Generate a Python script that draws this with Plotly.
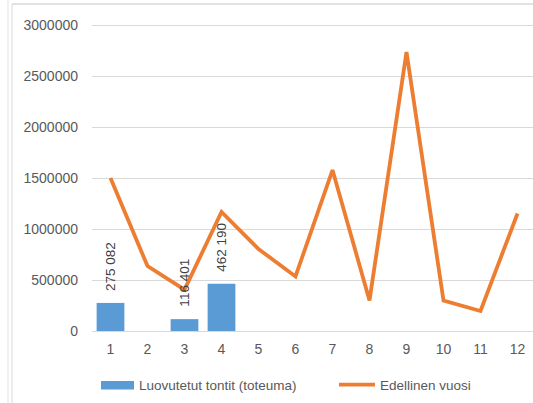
import plotly.graph_objects as go

months = [1, 2, 3, 4, 5, 6, 7, 8, 9, 10, 11, 12]
toteuma_months = [1, 3, 4]
toteuma = [275082, 116401, 462190]
toteuma_labels = ["275 082", "116 401", "462 190"]
edellinen = [1500000, 637000, 405000, 1167000, 804000, 535000, 1578000, 300000, 2735000, 298000, 196000, 1152000]
y_ticks = [0, 500000, 1000000, 1500000, 2000000, 2500000, 3000000]
bar_name = "Luovutetut tontit (toteuma)"
line_name = "Edellinen vuosi"
BAR_COLOR = "#5B9BD5"
LINE_COLOR = "#ED7D31"

OFF = 0  # body margin removed by post_script
W, H = 533 - OFF, 403 - OFF
L, R, T, B = 92 - OFF, 0, 20 - OFF, 72
pw, ph = W - L - R, H - T - B


def px_x(px):
    return (px - OFF - L) / pw


def px_y(py):
    return (H - B - (py - OFF)) / ph


fig = go.Figure()
fig.add_trace(go.Bar(
    x=toteuma_months, y=toteuma, name=bar_name,
    marker=dict(color=BAR_COLOR, line=dict(width=0)),
))
fig.add_trace(go.Scatter(
    x=months, y=edellinen, name=line_name, mode="lines",
    line=dict(color=LINE_COLOR, width=3.8),
))

for m, v, t in zip(toteuma_months, toteuma, toteuma_labels):
    fig.add_annotation(x=m, y=v, text=t, textangle=-90, showarrow=False,
                       yanchor="bottom", yshift=10,
                       font=dict(family="Liberation Sans", size=13.5, color="#404040"))

# legend (drawn manually to match the original's patch shapes)
fig.add_annotation(xref="paper", yref="paper", x=px_x(137), y=px_y(385.5), text=bar_name,
                   showarrow=False, xanchor="left", yanchor="middle",
                   font=dict(family="Liberation Sans", size=13.5, color="#595959"))
fig.add_annotation(xref="paper", yref="paper", x=px_x(378), y=px_y(385.5), text=line_name,
                   showarrow=False, xanchor="left", yanchor="middle",
                   font=dict(family="Liberation Sans", size=13.5, color="#595959"))

shapes = [
    dict(type="line", xref="paper", yref="paper", x0=px_x(8), x1=px_x(8), y0=px_y(0), y1=px_y(403),
         line=dict(color="#E3E3E3", width=1)),
    dict(type="line", xref="paper", yref="paper", x0=px_x(12), x1=px_x(12), y0=px_y(4), y1=px_y(403),
         line=dict(color="#D9D9D9", width=1)),
    dict(type="line", xref="paper", yref="paper", x0=px_x(12), x1=px_x(533), y0=px_y(4), y1=px_y(4),
         line=dict(color="#D9D9D9", width=1.5)),
    dict(type="rect", xref="paper", yref="paper", x0=px_x(101), x1=px_x(134), y0=px_y(381), y1=px_y(389.5),
         fillcolor=BAR_COLOR, line=dict(width=0)),
    dict(type="line", xref="paper", yref="paper", x0=px_x(339), x1=px_x(375), y0=px_y(384.7), y1=px_y(384.7),
         line=dict(color=LINE_COLOR, width=3.8)),
]

fig.update_layout(
    width=W, height=H,
    margin=dict(l=L, r=R, t=T, b=B, pad=0),
    paper_bgcolor="white", plot_bgcolor="white",
    bargap=0.25,
    font=dict(family="Liberation Sans", size=14, color="#595959"),
    shapes=shapes,
    showlegend=False,
    xaxis=dict(range=[0.5, 0.5 + pw / 37.0], tickmode="array", tickvals=months,
               ticktext=[str(m) for m in months], showgrid=False, zeroline=False,
               showline=False, ticks="", ticklabelstandoff=8,
               tickfont=dict(size=14, color="#595959")),
    yaxis=dict(range=[0, 3000000 * ph / 306.0], tickmode="array", tickvals=y_ticks,
               ticktext=[str(v) for v in y_ticks], showgrid=True, gridcolor="#D9D9D9",
               gridwidth=1, zeroline=True, zerolinecolor="#D9D9D9", zerolinewidth=1,
               showline=False, ticks="", ticklabelstandoff=13,
               tickfont=dict(size=14, color="#595959")),
)

fig.write_html(
    "out.html",
    default_width=f"{W}px", default_height=f"{H}px",
    config={"displayModeBar": False},
    post_script="document.body.style.margin='0';document.documentElement.style.overflow='hidden';",
)
